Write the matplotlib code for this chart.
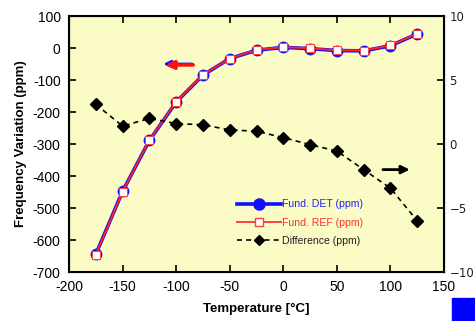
import matplotlib
matplotlib.use("Agg")
import matplotlib.pyplot as plt
from matplotlib.lines import Line2D

temperature = [-175, -150, -125, -100, -75, -50, -25, 0, 25, 50, 75, 100, 125]
fund_det = [-645, -448, -289, -169, -85, -33, -7, 2, -2, -8, -9, 7, 44]
fund_ref = [-646, -449, -288, -168, -84, -33, -6, 3, -1, -7, -8, 8, 45]
difference = [3.1, 1.4, 2.0, 1.6, 1.5, 1.1, 1.0, 0.5, -0.05, -0.55, -2.0, -3.45, -6.0]

xticks = [-200, -150, -100, -50, 0, 50, 100, 150]
yticks = [100, 0, -100, -200, -300, -400, -500, -600, -700]
y2ticks = [10, 5, 0, -5, -10]
y2ticklabels = ['10', '5', '0', '\u22125', '\u221210']

plt.rcParams['font.family'] = ['Liberation Sans', 'DejaVu Sans']
plt.rcParams['axes.unicode_minus'] = False

fig = plt.figure(figsize=(4.75, 3.21), dpi=100)
ax = fig.add_axes([69/475, 1-272/321, (444-69)/475, (272-16)/321])
ax.set_facecolor('#FBFBC6')
ax.set_xlim(-200, 150)
ax.set_ylim(-700, 100)
ax.set_xticks(xticks)
ax.set_yticks(yticks)
ax.tick_params(direction='in', length=5, width=1.2, labelsize=10, top=True,
               labeltop=False, colors='black', pad=6)
for s in ax.spines.values():
    s.set_linewidth(1.5)

ax.plot(temperature, fund_det, color='#1010FF', lw=2.6, marker='o', ms=7.5,
        mfc='#1010FF', mec='#1010FF', zorder=3)
ax.plot(temperature, fund_ref, color='#FF2020', lw=1.4, marker='s', ms=5.2,
        mfc='white', mec='#FF4040', mew=0.8, zorder=4)

ax2 = ax.twinx()
ax2.set_ylim(-10, 10)
ax2.set_yticks(y2ticks)
ax2.set_yticklabels(y2ticklabels)
ax2.tick_params(direction='in', length=5, width=1.2, labelsize=8.5, pad=4,
                labelcolor='#222222')
for lbl in ax2.get_yticklabels():
    lbl.set_family('DejaVu Sans')
ax2.plot(temperature, difference, color='black', lw=1.2, ls=(0, (3, 2.5)),
         marker='D', ms=6, zorder=3)
ax2.set_ylabel('Difference (ppm)', fontsize=7, color='#444444', labelpad=21)
ax.set_zorder(0)
ax2.set_zorder(1)
ax2.patch.set_visible(False)

ax.set_xlabel('Temperature [\u00b0C]', fontsize=9.5, fontweight='bold', labelpad=6)
ax.set_ylabel('Frequency Variation (ppm)', fontsize=9.5, fontweight='bold', labelpad=4)

# arrows
ax.annotate('', xy=(-112, -50), xytext=(-85, -50),
            arrowprops=dict(arrowstyle='-|>', color='#1010FF', lw=2.0,
                            mutation_scale=10, shrinkA=0, shrinkB=0))
ax.annotate('', xy=(-110, -53), xytext=(-84, -53),
            arrowprops=dict(arrowstyle='-|>', color='#FF1010', lw=2.5,
                            mutation_scale=12, shrinkA=0, shrinkB=0))
ax2.annotate('', xy=(118, -2.0), xytext=(93, -2.0),
             arrowprops=dict(arrowstyle='-|>', color='black', lw=2.0,
                             mutation_scale=12, shrinkA=0, shrinkB=0))

handles = [
    Line2D([], [], color='#1010FF', lw=2.6, marker='o', ms=8),
    Line2D([], [], color='#FF4040', lw=1.4, marker='s', ms=5.5, mfc='white', mec='#FF4040'),
    Line2D([], [], color='black', lw=1.2, ls=(0, (3, 2.5)), marker='D', ms=5),
]
leg = ax2.legend(handles, ['Fund. DET (ppm)', 'Fund. REF (ppm)', 'Difference (ppm)'],
                 loc='upper left', bbox_to_anchor=(232/475, 1-194/321),
                 bbox_transform=fig.transFigure, frameon=False, fontsize=7.6,
                 handlelength=4.1, handletextpad=0.15, labelspacing=0.8,
                 borderpad=0)
for t, c in zip(leg.get_texts(), ['#2020FF', '#FF3030', '#222222']):
    t.set_color(c)

fig.patches.append(plt.Rectangle((452/475, 0), 23/475, 23/321, color='#0000FF',
                                 transform=fig.transFigure, figure=fig))

fig.savefig('out.png', dpi=100)
